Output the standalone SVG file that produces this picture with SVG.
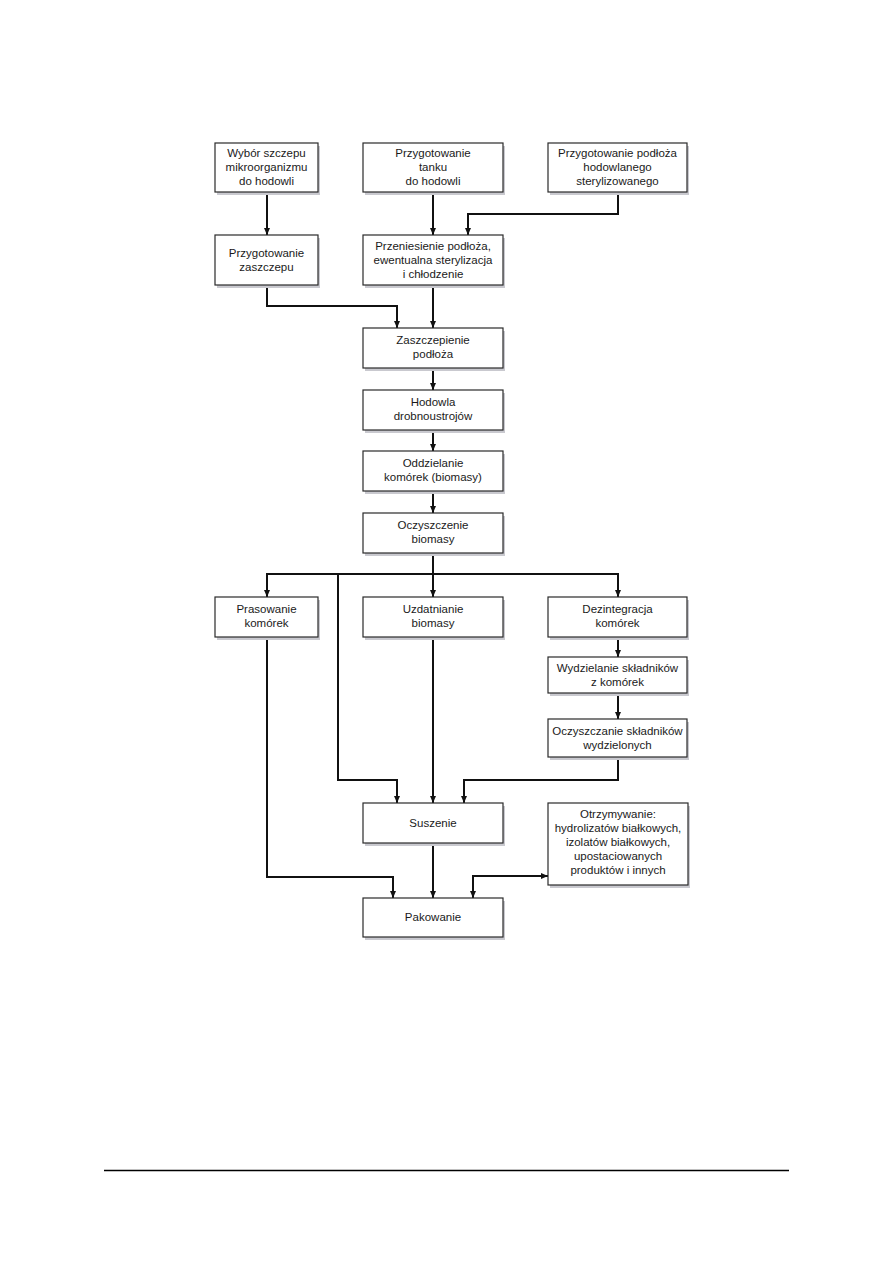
<svg xmlns="http://www.w3.org/2000/svg" width="893" height="1263" viewBox="0 0 893 1263">
<style>
.bx{fill:#fff;stroke:#2a2a2a;stroke-width:1.2}
.sh{fill:#c9c9cf}
.t{font-family:"Liberation Sans",Arial,sans-serif;font-size:11.5px;fill:#1a1a1a;text-anchor:middle}
.c{fill:none;stroke:#111;stroke-width:2}
</style>
<defs>
<marker id="a" markerUnits="userSpaceOnUse" markerWidth="8" markerHeight="8" refX="7" refY="3" orient="auto">
<path d="M0,0 L7,3 L0,6 Z" fill="#111"/>
</marker>
<marker id="as" markerUnits="userSpaceOnUse" markerWidth="8" markerHeight="8" refX="7" refY="3" orient="auto-start-reverse">
<path d="M0,0 L7,3 L0,6 Z" fill="#111"/>
</marker>
</defs>
<rect width="893" height="1263" fill="#fff"/>

<g id="connectors">
<path class="c" d="M267,192 V235" marker-end="url(#a)"/>
<path class="c" d="M433,192 V235" marker-end="url(#a)"/>
<path class="c" d="M618,192 V214 H468 V235" marker-end="url(#a)"/>
<path class="c" d="M267,285 V306 H397 V328" marker-end="url(#a)"/>
<path class="c" d="M433,285 V328" marker-end="url(#a)"/>
<path class="c" d="M433,368 V390" marker-end="url(#a)"/>
<path class="c" d="M433,430 V451" marker-end="url(#a)"/>
<path class="c" d="M433,491 V513" marker-end="url(#a)"/>
<path class="c" d="M433,553 V597" marker-end="url(#a)"/>
<path class="c" d="M267,574 H618"/>
<path class="c" d="M267,573 V597" marker-end="url(#a)"/>
<path class="c" d="M618,573 V597" marker-end="url(#a)"/>
<path class="c" d="M338,574 V780 H397 V803" marker-end="url(#a)"/>
<path class="c" d="M618,637 V657" marker-end="url(#a)"/>
<path class="c" d="M618,693 V719" marker-end="url(#a)"/>
<path class="c" d="M618,757 V780 H464 V803" marker-end="url(#a)"/>
<path class="c" d="M433,637 V803" marker-end="url(#a)"/>
<path class="c" d="M267,637 V877 H393 V898" marker-end="url(#a)"/>
<path class="c" d="M433,843 V898" marker-end="url(#a)"/>
<path class="c" d="M473,898 V876 H548" marker-start="url(#as)" marker-end="url(#a)"/>
</g>

<g id="n1"><rect class="sh" x="217" y="146" width="103" height="49"/><rect class="bx" x="215" y="143" width="103" height="49"/>
<text class="t" x="266.5" y="157">Wybór szczepu</text><text class="t" x="266.5" y="171">mikroorganizmu</text><text class="t" x="266.5" y="185">do hodowli</text></g>

<g id="n2"><rect class="sh" x="365" y="146" width="140" height="49"/><rect class="bx" x="363" y="143" width="140" height="49"/>
<text class="t" x="433" y="157">Przygotowanie</text><text class="t" x="433" y="171">tanku</text><text class="t" x="433" y="185">do hodowli</text></g>

<g id="n3"><rect class="sh" x="550" y="146" width="139" height="49"/><rect class="bx" x="548" y="143" width="139" height="49"/>
<text class="t" x="617.5" y="157">Przygotowanie podłoża</text><text class="t" x="617.5" y="171">hodowlanego</text><text class="t" x="617.5" y="185">sterylizowanego</text></g>

<g id="n4"><rect class="sh" x="217" y="238" width="103" height="50"/><rect class="bx" x="215" y="235" width="103" height="50"/>
<text class="t" x="266.5" y="257">Przygotowanie</text><text class="t" x="266.5" y="271">zaszczepu</text></g>

<g id="n5"><rect class="sh" x="365" y="238" width="140" height="50"/><rect class="bx" x="363" y="235" width="140" height="50"/>
<text class="t" x="433" y="250">Przeniesienie podłoża,</text><text class="t" x="433" y="264">ewentualna sterylizacja</text><text class="t" x="433" y="278">i chłodzenie</text></g>

<g id="n6"><rect class="sh" x="365" y="331" width="140" height="40"/><rect class="bx" x="363" y="328" width="140" height="40"/>
<text class="t" x="433" y="344">Zaszczepienie</text><text class="t" x="433" y="358">podłoża</text></g>

<g id="n7"><rect class="sh" x="365" y="393" width="140" height="40"/><rect class="bx" x="363" y="390" width="140" height="40"/>
<text class="t" x="433" y="406">Hodowla</text><text class="t" x="433" y="420">drobnoustrojów</text></g>

<g id="n8"><rect class="sh" x="365" y="454" width="140" height="40"/><rect class="bx" x="363" y="451" width="140" height="40"/>
<text class="t" x="433" y="467">Oddzielanie</text><text class="t" x="433" y="481">komórek (biomasy)</text></g>

<g id="n9"><rect class="sh" x="365" y="516" width="140" height="40"/><rect class="bx" x="363" y="513" width="140" height="40"/>
<text class="t" x="433" y="529">Oczyszczenie</text><text class="t" x="433" y="543">biomasy</text></g>

<g id="n10"><rect class="sh" x="217" y="600" width="103" height="40"/><rect class="bx" x="215" y="597" width="103" height="40"/>
<text class="t" x="266.5" y="613">Prasowanie</text><text class="t" x="266.5" y="627">komórek</text></g>

<g id="n11"><rect class="sh" x="365" y="600" width="140" height="40"/><rect class="bx" x="363" y="597" width="140" height="40"/>
<text class="t" x="433" y="613">Uzdatnianie</text><text class="t" x="433" y="627">biomasy</text></g>

<g id="n12"><rect class="sh" x="550" y="600" width="139" height="40"/><rect class="bx" x="548" y="597" width="139" height="40"/>
<text class="t" x="617.5" y="613">Dezintegracja</text><text class="t" x="617.5" y="627">komórek</text></g>

<g id="n13"><rect class="sh" x="550" y="660" width="139" height="36"/><rect class="bx" x="548" y="657" width="139" height="36"/>
<text class="t" x="617.5" y="672">Wydzielanie składników</text><text class="t" x="617.5" y="686">z komórek</text></g>

<g id="n14"><rect class="sh" x="550" y="722" width="139" height="38"/><rect class="bx" x="548" y="719" width="139" height="38"/>
<text class="t" x="617.5" y="735">Oczyszczanie składników</text><text class="t" x="617.5" y="749">wydzielonych</text></g>

<g id="n15"><rect class="sh" x="365" y="806" width="140" height="40"/><rect class="bx" x="363" y="803" width="140" height="40"/>
<text class="t" x="433" y="827">Suszenie</text></g>

<g id="n16"><rect class="sh" x="550" y="806" width="140" height="82"/><rect class="bx" x="548" y="803" width="140" height="82"/>
<text class="t" x="618" y="818">Otrzymywanie:</text><text class="t" x="618" y="832">hydrolizatów białkowych,</text><text class="t" x="618" y="846">izolatów białkowych,</text><text class="t" x="618" y="860">upostaciowanych</text><text class="t" x="618" y="874">produktów i innych</text></g>

<g id="n17"><rect class="sh" x="365" y="901" width="140" height="39"/><rect class="bx" x="363" y="898" width="140" height="39"/>
<text class="t" x="433" y="921">Pakowanie</text></g>

<line x1="104" y1="1170.5" x2="789" y2="1170.5" stroke="#000" stroke-width="1.3"/>
</svg>
